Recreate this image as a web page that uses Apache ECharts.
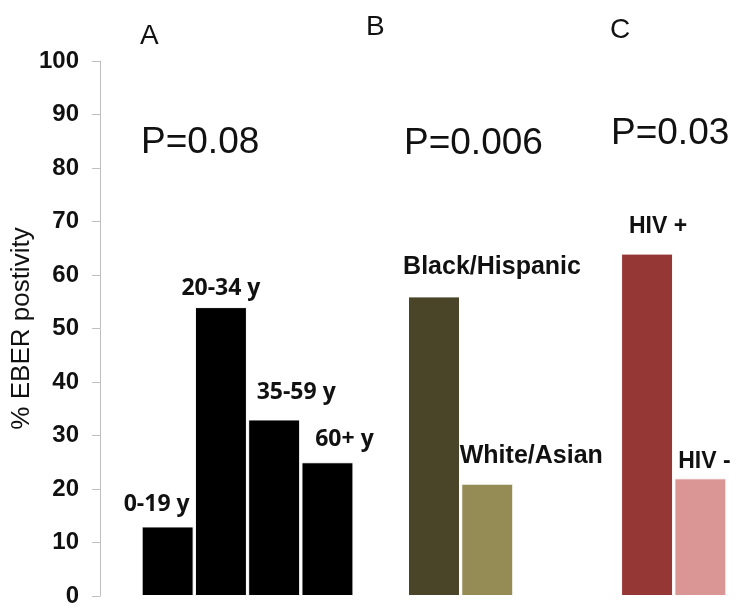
<!DOCTYPE html>
<html>
<head>
<meta charset="utf-8">
<script src="https://cdn.jsdelivr.net/npm/echarts@6/dist/echarts.min.js"></script>
<style>
html,body{margin:0;padding:0;background:#fff;}
#chart{width:747px;height:614px;}
</style>
</head>
<body>
<div id="chart"></div>
<script>
// Panel A: age groups
var ageGroups = ['0-19 y', '20-34 y', '35-59 y', '60+ y'];
var ageValues = [13, 54, 33, 25];
// Panel B: race/ethnicity
var raceGroups = ['Black/Hispanic', 'White/Asian'];
var raceValues = [56, 21];
// Panel C: HIV status
var hivGroups = ['HIV +', 'HIV -'];
var hivValues = [64, 22];
// Panel annotations
var panelLetters = ['A', 'B', 'C'];
var pValues = ['P=0.08', 'P=0.006', 'P=0.03'];
// Y axis ticks
var yMin = 0, yMax = 100, yStep = 10;
var yAxisTitle = '% EBER postivity';

// styles
var ageColors = ['#000000', '#000000', '#000000', '#000000'];
var raceColors = ['#4a4429', '#958b54'];
var hivColors = ['#953735', '#d99694'];
var ageLabelOffsets = [[-11, -5], [0, -2], [22, -10], [17, -6]];
var raceLabelOffsets = [[58, -12], [44, -10]];
var hivLabelOffsets = [[11, -10], [4, 0]];

var cats = [], vals = [];
function addGroup(names, values, colors, offsets, font, size) {
  names.forEach(function (n, i) {
    cats.push(n);
    vals.push({
      value: values[i],
      itemStyle: { color: colors[i], borderColor: '#ffffff', borderWidth: 1 },
      label: {
        show: true, position: 'top', offset: offsets[i],
        formatter: n, color: '#111', fontWeight: 'bold',
        fontFamily: font, fontSize: size
      }
    });
  });
}
function addGap(k) { cats.push(' '.repeat(k)); vals.push('-'); }

addGroup(ageGroups, ageValues, ageColors, ageLabelOffsets, 'Open Sans', 23);
addGap(1);
addGroup(raceGroups, raceValues, raceColors, raceLabelOffsets, 'Liberation Sans', 25);
addGap(2);
addGap(3);
addGroup(hivGroups, hivValues, hivColors, hivLabelOffsets, 'Liberation Sans', 23);

var chart = echarts.init(document.getElementById('chart'), null, { renderer: 'canvas' });
var textStyleBig = { fontFamily: 'Liberation Sans', fontSize: 37, fill: '#111' };
var letterStyle = { fontFamily: 'Liberation Sans', fontSize: 28, fill: '#111' };
chart.setOption({
  animation: false,
  backgroundColor: '#ffffff',
  grid: { left: 141, right: 20, top: 61, bottom: 18, containLabel: false, outerBoundsMode: 'none' },
  xAxis: {
    type: 'category', data: cats,
    axisLine: { show: false }, axisTick: { show: false }, axisLabel: { show: false },
    splitLine: { show: false }
  },
  yAxis: {
    type: 'value', min: yMin, max: yMax, interval: yStep, offset: 41,
    name: yAxisTitle, nameLocation: 'middle', nameGap: 65, nameRotate: 90,
    nameMoveOverlap: false,
    nameTextStyle: { fontFamily: 'Liberation Sans', fontSize: 26, color: '#111' },
    axisLine: { show: true, lineStyle: { color: '#bfbfbf', width: 1 } },
    axisTick: { show: true, length: 8, lineStyle: { color: '#bfbfbf' } },
    axisLabel: { margin: 21, fontFamily: 'Liberation Sans', fontWeight: 'bold', fontSize: 24, color: '#111' },
    splitLine: { show: false }
  },
  series: [{
    type: 'bar', data: vals, barWidth: 52, barGap: '0%'
  }],
  graphic: [
    { type: 'text', left: 140, top: 22, style: Object.assign({ text: panelLetters[0] }, letterStyle) },
    { type: 'text', left: 366, top: 13, style: Object.assign({ text: panelLetters[1] }, letterStyle) },
    { type: 'text', left: 610, top: 16, style: Object.assign({ text: panelLetters[2] }, letterStyle) },
    { type: 'text', left: 141, top: 124, style: Object.assign({ text: pValues[0] }, textStyleBig) },
    { type: 'text', left: 404, top: 125, style: Object.assign({ text: pValues[1] }, textStyleBig) },
    { type: 'text', left: 611, top: 115, style: Object.assign({ text: pValues[2] }, textStyleBig) }
  ]
});
</script>
</body>
</html>
